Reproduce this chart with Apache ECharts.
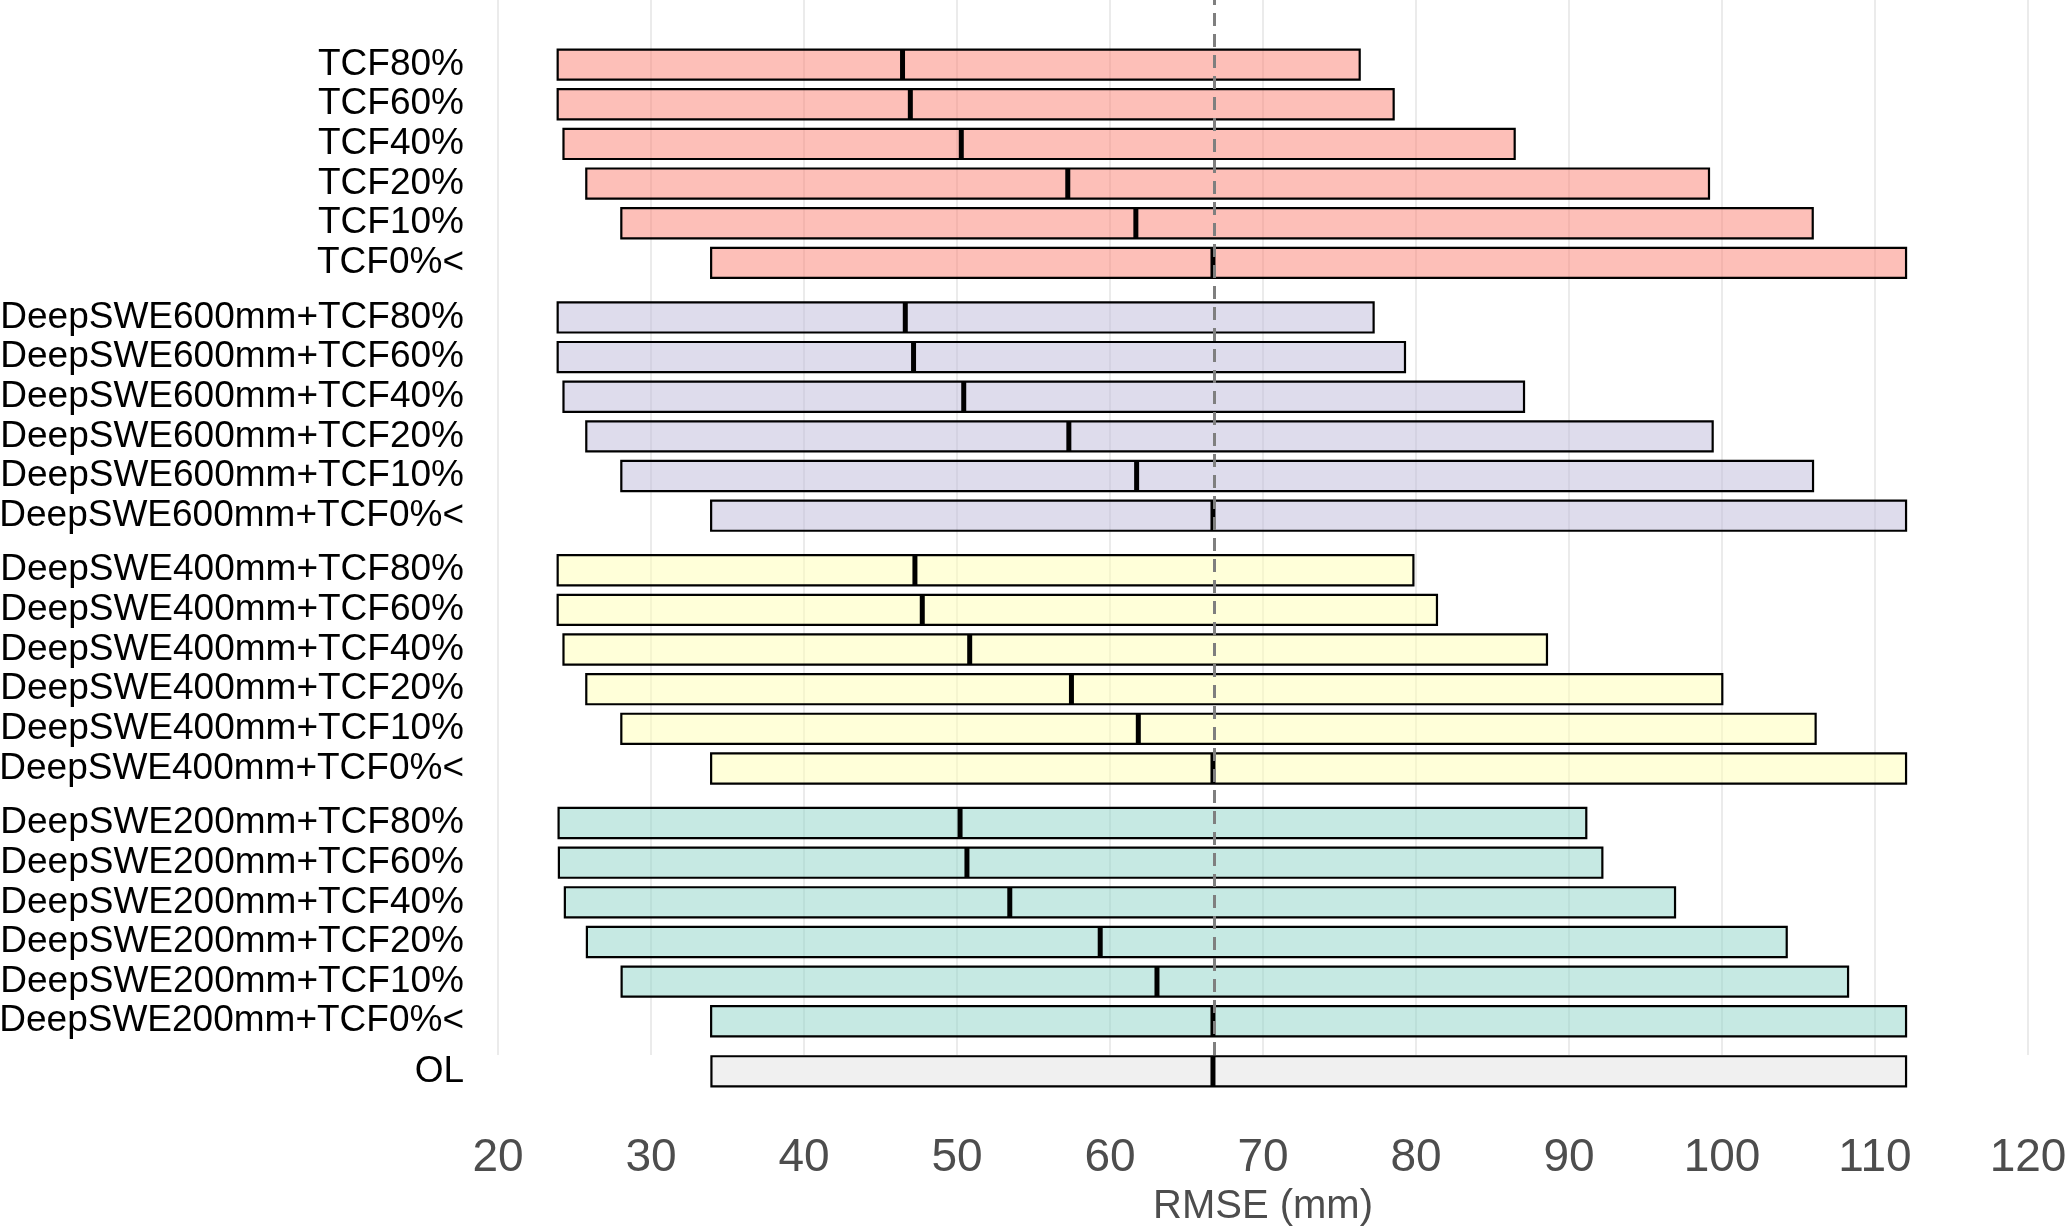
<!DOCTYPE html>
<html>
<head>
<meta charset="utf-8">
<script src="https://cdn.jsdelivr.net/npm/echarts@6/dist/echarts.min.js"></script>
<style>
  html, body { margin: 0; padding: 0; background: #ffffff; }
  #chart { width: 2066px; height: 1227px; }
</style>
</head>
<body>
<div id="chart"></div>
<script>
// ---------------- DATA ----------------
const catTCF = ['TCF80%', 'TCF60%', 'TCF40%', 'TCF20%', 'TCF10%', 'TCF0%<'];
const loTCF  = [23.90, 23.90, 24.28, 25.77, 28.06, 33.93];
const medTCF = [46.44, 46.95, 50.28, 57.24, 61.69, 66.73];
const hiTCF  = [76.32, 78.54, 86.45, 99.15, 105.93, 112.03];

const cat600 = ['DeepSWE600mm+TCF80%', 'DeepSWE600mm+TCF60%', 'DeepSWE600mm+TCF40%', 'DeepSWE600mm+TCF20%', 'DeepSWE600mm+TCF10%', 'DeepSWE600mm+TCF0%<'];
const lo600  = [23.90, 23.90, 24.28, 25.77, 28.06, 33.93];
const med600 = [46.62, 47.16, 50.44, 57.31, 61.74, 66.73];
const hi600  = [77.23, 79.28, 87.06, 99.39, 105.95, 112.03];

const cat400 = ['DeepSWE400mm+TCF80%', 'DeepSWE400mm+TCF60%', 'DeepSWE400mm+TCF40%', 'DeepSWE400mm+TCF20%', 'DeepSWE400mm+TCF10%', 'DeepSWE400mm+TCF0%<'];
const lo400  = [23.90, 23.90, 24.28, 25.77, 28.06, 33.93];
const med400 = [47.25, 47.73, 50.83, 57.48, 61.85, 66.73];
const hi400  = [79.83, 81.37, 88.56, 100.02, 106.12, 112.03];

const cat200 = ['DeepSWE200mm+TCF80%', 'DeepSWE200mm+TCF60%', 'DeepSWE200mm+TCF40%', 'DeepSWE200mm+TCF20%', 'DeepSWE200mm+TCF10%', 'DeepSWE200mm+TCF0%<'];
const lo200  = [23.96, 23.98, 24.37, 25.81, 28.08, 33.93];
const med200 = [50.20, 50.65, 53.45, 59.36, 63.07, 66.73];
const hi200  = [91.13, 92.18, 96.93, 104.23, 108.24, 112.03];

const catOL = ['OL'];
const loOL  = [33.95];
const medOL = [66.73];
const hiOL  = [112.03];

const refLine = 66.83;          // dashed reference line (RMSE of OL)
const xMin = 20, xMax = 120, xStep = 10;
const xTitle = 'RMSE (mm)';

// ---------------- STYLE / LAYOUT ----------------
const FONT = '"Liberation Sans", Arial, Helvetica, sans-serif';
const groups = [
  { cats: catTCF, lo: loTCF, med: medTCF, hi: hiTCF, fill: 'rgba(251,128,114,0.5)' },
  { cats: cat600, lo: lo600, med: med600, hi: hi600, fill: 'rgba(190,186,218,0.5)' },
  { cats: cat400, lo: lo400, med: med400, hi: hi400, fill: 'rgba(255,255,179,0.5)' },
  { cats: cat200, lo: lo200, med: med200, hi: hi200, fill: 'rgba(141,211,199,0.5)' },
  { cats: catOL,  lo: loOL,  med: medOL,  hi: hiOL,  fill: 'rgba(225,225,225,0.5)' }
];

const gridLeft = 498, gridRight = 38;
const rowPitch = 39.65;
const firstTop = 44.8;
const groupPitch = 252.8;
const olTop = 1051.5;
const panelBottom = 1055;

const grids = [], xAxes = [], yAxes = [], series = [];

// background panel: vertical grid lines + dashed reference line
grids.push({ left: gridLeft, right: gridRight, top: 0, height: panelBottom, containLabel: false, outerBoundsMode: 'none' });
xAxes.push({
  gridIndex: 0, type: 'value', min: xMin, max: xMax, interval: xStep,
  axisLine: { show: false }, axisTick: { show: false }, axisLabel: { show: false },
  splitLine: { show: true, lineStyle: { color: '#EBEBEB', width: 2 } }
});
yAxes.push({ gridIndex: 0, type: 'value', min: 0, max: 1, show: false });
series.push({
  type: 'line', xAxisIndex: 0, yAxisIndex: 0, data: [], z: 1,
  showSymbol: false, silent: true,
  markLine: {
    silent: true, symbol: 'none', label: { show: false },
    lineStyle: { color: '#7F7F7F', type: [13, 8], width: 3 },
    data: [{ xAxis: refLine }]
  }
});

function makeRender(fill) {
  return function (params, api) {
    const c = api.value(0);
    const pLo = api.coord([api.value(1), c]);
    const pMed = api.coord([api.value(2), c]);
    const pHi = api.coord([api.value(3), c]);
    const h = api.size([0, 1])[1] * 0.76;
    const y0 = pLo[1] - h / 2;
    return {
      type: 'group',
      children: [
        { type: 'rect', shape: { x: pLo[0], y: y0, width: pHi[0] - pLo[0], height: h },
          style: { fill: fill, stroke: '#000000', lineWidth: 2.2 } },
        { type: 'line', shape: { x1: pMed[0], y1: y0, x2: pMed[0], y2: y0 + h },
          style: { stroke: '#000000', lineWidth: 5 } }
      ]
    };
  };
}

groups.forEach(function (g, k) {
  const gi = k + 1;
  const isOL = (k === groups.length - 1);
  const top = isOL ? olTop : firstTop + k * groupPitch;
  grids.push({ left: gridLeft, right: gridRight, top: top, height: rowPitch * g.cats.length,
               containLabel: false, outerBoundsMode: 'none' });
  xAxes.push({
    gridIndex: gi, type: 'value', min: xMin, max: xMax, interval: xStep,
    axisLine: { show: false }, axisTick: { show: false }, splitLine: { show: false },
    axisLabel: isOL
      ? { show: true, fontSize: 46, color: '#4D4D4D', fontFamily: FONT, margin: 44 }
      : { show: false },
    name: isOL ? xTitle : '',
    nameLocation: 'middle', nameGap: 96,
    nameTextStyle: { fontSize: 40, color: '#4D4D4D', fontFamily: FONT }
  });
  yAxes.push({
    gridIndex: gi, type: 'category', inverse: true, data: g.cats,
    axisLine: { show: false }, axisTick: { show: false }, splitLine: { show: false },
    axisLabel: { interval: 0, fontSize: 37, color: '#000000', fontFamily: FONT, margin: 34,
                 padding: [6, 0, 0, 0] }
  });
  series.push({
    type: 'custom', xAxisIndex: gi, yAxisIndex: gi, z: 3,
    renderItem: makeRender(g.fill),
    encode: { x: [1, 2, 3], y: 0 },
    data: g.cats.map(function (name, i) { return [i, g.lo[i], g.med[i], g.hi[i]]; })
  });
});

const chart = echarts.init(document.getElementById('chart'), null, { renderer: 'canvas' });
chart.setOption({
  backgroundColor: '#ffffff',
  animation: false,
  grid: grids,
  xAxis: xAxes,
  yAxis: yAxes,
  series: series
});
</script>
</body>
</html>
